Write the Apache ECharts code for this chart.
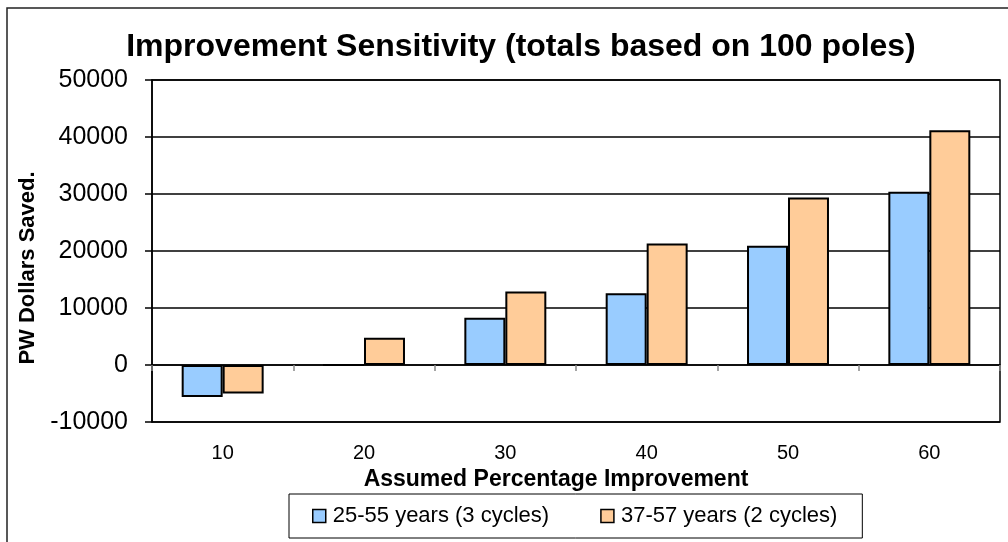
<!DOCTYPE html>
<html>
<head>
<meta charset="utf-8">
<script src="https://cdn.jsdelivr.net/npm/echarts@6/dist/echarts.min.js"></script>
<style>
  html, body { margin: 0; padding: 0; background: #fff; }
  #chart { width: 1008px; height: 542px; }
</style>
</head>
<body>
<div id="chart"></div>
<script>
// Assumed percentage improvement categories
const categories = ['10', '20', '30', '40', '50', '60'];
// PW dollars saved, totals for 100 poles
const series3Cycles = [-5600, 0, 8300, 12600, 20900, 30400];
const series2Cycles = [-5000, 4800, 12900, 21300, 29400, 41200];
const seriesNames = ['25-55 years (3 cycles)', '37-57 years (2 cycles)'];
const yTicks = { min: -10000, max: 50000, interval: 10000 };

const FONT = '"Liberation Sans", Arial, sans-serif';
const chart = echarts.init(document.getElementById('chart'), null, { renderer: 'canvas' });

chart.setOption({
  animation: false,
  backgroundColor: '#fff',
  title: {
    text: 'Improvement Sensitivity (totals based on 100 poles)',
    left: 516, top: 26, textAlign: 'center',
    textStyle: { fontFamily: FONT, fontSize: 32, fontWeight: 'bold', color: '#000' }
  },
  graphic: [{
    type: 'rect',
    shape: { x: 7, y: 8, width: 1020, height: 560 },
    style: { fill: 'none', stroke: '#222', lineWidth: 1.5 },
    silent: true, z: -1
  }],
  grid: {
    left: 152, top: 80, right: 8, bottom: 120,
    show: true, borderColor: '#000', borderWidth: 1.5, backgroundColor: '#fff'
  },
  legend: {
    left: 289, top: 494,
    padding: [11, 25, 11, 23],
    borderColor: '#000', borderWidth: 1,
    itemWidth: 13, itemHeight: 13, itemGap: 51,
    icon: 'rect',
    itemStyle: { borderColor: '#000', borderWidth: 1.5 },
    textStyle: { fontFamily: FONT, fontSize: 22, color: '#000', padding: [0, 0, 0, 2] },
    data: seriesNames
  },
  xAxis: [{
    // axis through zero carrying the category tick marks
    type: 'category', data: categories,
    axisLine: { onZero: true, lineStyle: { color: '#000', width: 1.5 } },
    axisTick: { show: true, length: 6, lineStyle: { color: '#888', width: 1.5 } },
    axisLabel: { show: false }
  }, {
    // bottom axis carrying the labels and the title
    type: 'category', data: categories, position: 'bottom',
    axisLine: { show: false }, axisTick: { show: false },
    axisLabel: { margin: 21, fontFamily: FONT, fontSize: 20, color: '#000' },
    name: 'Assumed Percentage Improvement', nameLocation: 'middle', nameGap: 41,
    nameTextStyle: { fontFamily: FONT, fontSize: 23, fontWeight: 'bold', color: '#000', padding: [0, 40, 0, 0] }
  }],
  yAxis: {
    type: 'value', min: yTicks.min, max: yTicks.max, interval: yTicks.interval,
    axisLine: { show: true, lineStyle: { color: '#000', width: 1.5 } },
    axisTick: { show: true, length: 7, lineStyle: { color: '#000', width: 1.5 } },
    axisLabel: { margin: 24, fontFamily: FONT, fontSize: 25, color: '#000', formatter: v => String(v) },
    splitLine: { show: true, lineStyle: { color: '#000', width: 1.5 } },
    name: 'PW Dollars Saved.', nameLocation: 'middle', nameGap: 108, nameRotate: 90,
    nameTextStyle: { fontFamily: FONT, fontSize: 22, fontWeight: 'bold', color: '#000', padding: [0, 34, 0, 0] }
  },
  series: [{
    name: seriesNames[0], type: 'bar', data: series3Cycles,
    barGap: '0%', barCategoryGap: '42%',
    itemStyle: { color: '#99CCFF', borderColor: '#000', borderWidth: 2 }
  }, {
    name: seriesNames[1], type: 'bar', data: series2Cycles,
    barGap: '0%', barCategoryGap: '42%',
    itemStyle: { color: '#FFCC99', borderColor: '#000', borderWidth: 2 }
  }]
});
</script>
</body>
</html>
